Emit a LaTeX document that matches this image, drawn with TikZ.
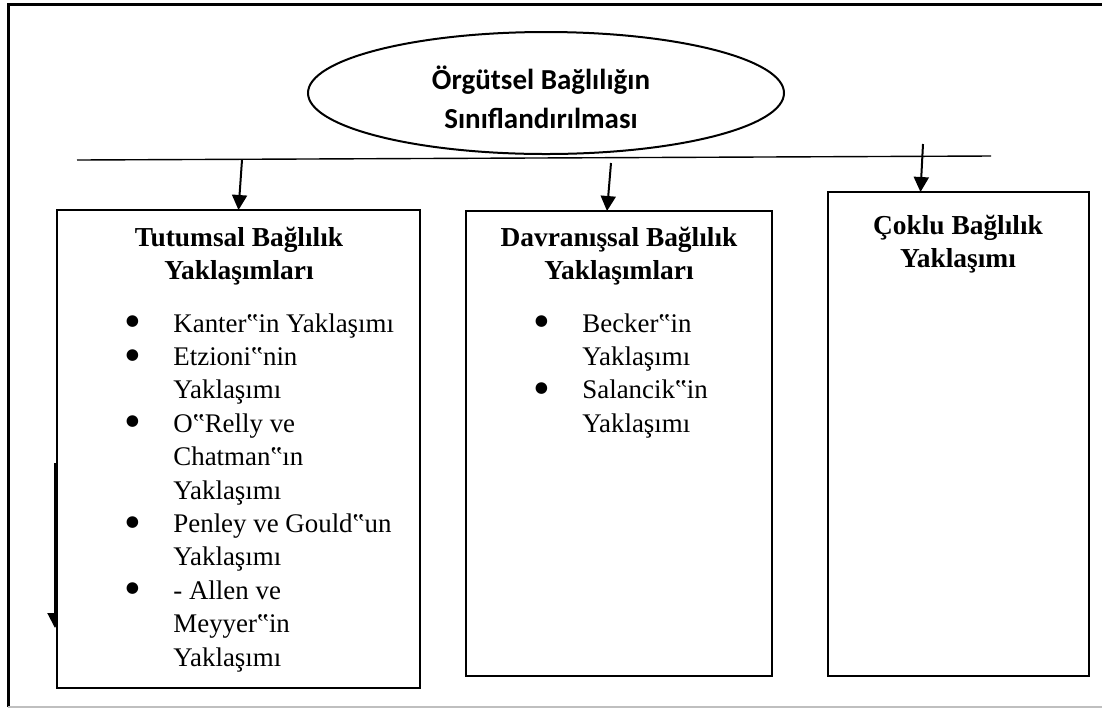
\documentclass[tikz,border=0pt]{standalone}
\usepackage{fontspec}
\setmainfont{Liberation Serif}
\newfontfamily\calibrifont{Carlito}
\newfontfamily\isaretfont{DejaVu Sans}
\usetikzlibrary{arrows.meta,shapes.geometric}
\tikzset{
  kutu/.style={draw, line width=1.3pt, fill=white, anchor=north west, outer sep=0pt, inner sep=0pt},
  baslik/.style={font=\fontsize{13.7}{16.5}\selectfont\bfseries, anchor=base, inner sep=0pt},
  anabaslik/.style={font=\calibrifont\fontsize{14.5}{19.5}\selectfont\bfseries, anchor=base, inner sep=0pt},
  liste/.style={font=\fontsize{13.45}{16.7}\selectfont, anchor=base west, inner sep=0pt},
  ok/.style={line width=1pt, -{Triangle[width=7.5pt,length=7.5pt]}},
}
\newcommand{\madde}{\makebox[10pt]{\raisebox{3.2pt}{\isaretfont\fontsize{7.6}{8}\selectfont ●}}}

\begin{document}
\begin{tikzpicture}[x=0.5pt,y=-0.5pt]
  \useasboundingbox (0,0) rectangle (1102,709);
  % frame
  \draw[line width=1.5pt] (8,707) -- (8,4) -- (1102,4);
  \draw[black!25, line width=1pt] (8,707) -- (1102,707);

  % arrow at the left edge
  \coordinate (s1) at (55,463);
  \coordinate (s2) at (55,628);
  \draw[ok] (s1) -- (s2);

  % title
  \node[draw, ellipse, line width=1pt, minimum width=238pt, minimum height=61pt, inner sep=0pt] (ana) at (546,93) {};
  \node[anabaslik] (ana1) at (541,89) {Örgütsel Bağlılığın};
  \node[anabaslik] (ana2) at (541,128) {Sınıflandırılması};

  % bar
  \coordinate (b1) at (77,160);
  \coordinate (b2) at (991,156);
  \draw[line width=0.7pt] (b1) -- (b2);

  % boxes
  \node[kutu, minimum width=181.5pt, minimum height=239pt] (tut) at (57,210) {};
  \node[kutu, minimum width=153pt, minimum height=232.5pt] (dav) at (466,211) {};
  \node[kutu, minimum width=130.5pt, minimum height=242pt] (cok) at (828,192) {};

  % arrows
  \coordinate (o1) at (242,160);
  \coordinate (o2) at (611,163);
  \coordinate (o3) at (923,144);
  \draw[ok] (o1) -- (tut.north);
  \draw[ok] (o2) -- ([xshift=-6pt]dav.north);
  \draw[ok] (o3) -- ([xshift=-19pt]cok.north);

  % headings
  \node[baslik] (tut1) at (239,246) {Tutumsal Bağlılık};
  \node[baslik] (tut2) at (239,279) {Yaklaşımları};
  \node[baslik] (dav1) at (619,246) {Davranışsal Bağlılık};
  \node[baslik] (dav2) at (619,279) {Yaklaşımları};
  \node[baslik] (cok1) at (958,234) {Çoklu Bağlılık};
  \node[baslik] (cok2) at (958,267) {Yaklaşımı};

  % lists
  \node[liste] (tutliste) at (122,332) {\begin{tabular}[t]{@{}p{25.5pt}@{}l@{}}
    \madde & Kanter‟in Yaklaşımı\\
    \madde & Etzioni‟nin\\
           & Yaklaşımı\\
    \madde & O‟Relly ve\\
           & Chatman‟ın\\
           & Yaklaşımı\\
    \madde & Penley ve Gould‟un\\
           & Yaklaşımı\\
    \madde & - Allen ve\\
           & Meyyer‟in\\
           & Yaklaşımı
  \end{tabular}};
  \node[liste] (davliste) at (531,332) {\begin{tabular}[t]{@{}p{25.5pt}@{}l@{}}
    \madde & Becker‟in\\
           & Yaklaşımı\\
    \madde & Salancik‟in\\
           & Yaklaşımı
  \end{tabular}};
\end{tikzpicture}
\end{document}
